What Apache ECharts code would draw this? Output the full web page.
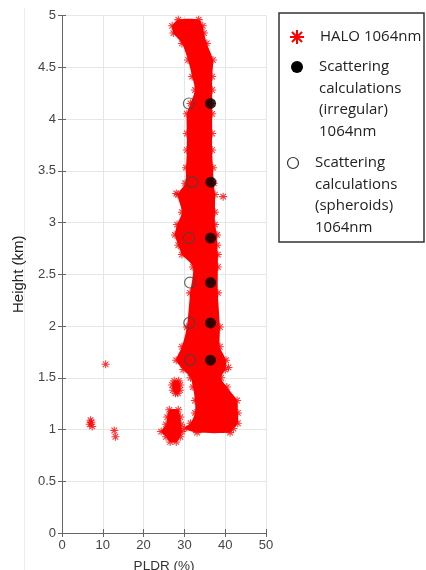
<!DOCTYPE html>
<html>
<head>
<meta charset="utf-8">
<script src="https://cdn.jsdelivr.net/npm/echarts@6/dist/echarts.min.js"></script>
<style>
html, body { margin: 0; padding: 0; background: #fff; }
#chart { width: 426px; height: 570px; }
</style>
</head>
<body>
<div id="chart"></div>
<script>
// HALO 1064nm cloud, main column: height (km), left / right PLDR edge (%)
const mainH     = [4.96, 4.90, 4.83, 4.73, 4.57, 4.41, 4.28, 4.15, 4.05, 3.86, 3.70, 3.53, 3.38, 3.27, 3.10, 2.98, 2.88, 2.78, 2.69, 2.57, 2.32, 1.99, 1.80, 1.67, 1.58, 1.50, 1.41, 1.28, 1.16, 1.06, 1.01, 0.97];
const mainLeft  = [28.5, 27.0, 27.3, 29.4, 30.9, 31.9, 32.6, 31.5, 30.6, 30.6, 30.6, 30.4, 30.2, 28.4, 29.4, 28.2, 27.7, 28.5, 29.4, 32.1, 31.4, 30.6, 29.4, 28.0, 29.7, 31.5, 32.1, 32.6, 32.6, 31.5, 30.0, 33.1];
const mainRight = [33.5, 34.5, 34.8, 35.5, 37.0, 36.8, 36.8, 36.8, 36.8, 36.8, 36.8, 37.0, 37.2, 37.5, 37.5, 37.5, 38.0, 38.0, 38.2, 38.2, 38.2, 38.7, 38.7, 40.2, 40.0, 39.0, 40.4, 42.9, 43.1, 43.1, 42.0, 41.2];

// lower-left patch
const lowH     = [1.19, 1.12, 1.05, 0.98, 0.93, 0.88];
const lowLeft  = [26.3, 25.8, 25.5, 24.3, 25.5, 26.5];
const lowRight = [28.5, 29.0, 29.2, 29.4, 29.0, 28.0];

// small patch near 1.4 km
const midH     = [1.47, 1.43, 1.38, 1.35];
const midLeft  = [27.5, 27.0, 27.2, 27.8];
const midRight = [28.6, 29.0, 28.9, 28.4];

// isolated HALO points
const spotX = [7.0, 6.8, 7.4, 7.2, 10.7, 12.8, 13.1, 39.5, 40.8, 28.0];
const spotY = [1.09, 1.05, 1.03, 1.07, 1.63, 0.99, 0.93, 3.25, 1.60, 3.28];

// scattering calculations
const calcH = [4.15, 3.39, 2.85, 2.42, 2.03, 1.67];
const irregularPLDR = [36.4, 36.5, 36.4, 36.4, 36.4, 36.4];
const spheroidPLDR  = [31.1, 31.9, 31.1, 31.4, 31.2, 31.4];

const star = 'M8.7 0L11.3 0L11.3 20L8.7 20Z M0 8.7L20 8.7L20 11.3L0 11.3Z M2.08 3.92L3.92 2.08L17.92 16.08L16.08 17.92Z M16.08 2.08L17.92 3.92L3.92 17.92L2.08 16.08Z';
const RED = '#ff0000';

let chart = echarts.init(document.getElementById('chart'));

function blob(hs, ls, rs) {
    return {
        type: 'custom',
        data: [[ls[0], hs[0]]],
        silent: true,
        z: 2,
        renderItem: function (params, api) {
            const pts = [];
            for (let i = 0; i < hs.length; i++) pts.push(api.coord([ls[i], hs[i]]));
            for (let i = hs.length - 1; i >= 0; i--) pts.push(api.coord([rs[i], hs[i]]));
            return { type: 'polygon', shape: { points: pts, smooth: 0.25 }, style: { fill: RED } };
        }
    };
}

function edges(hs, ls, rs) {
    const out = [];
    hs.forEach((h, i) => { out.push([ls[i], h]); out.push([rs[i], h]); });
    return out;
}

const haloPoints = edges(mainH, mainLeft, mainRight)
    .concat(edges(lowH, lowLeft, lowRight))
    .concat(edges(midH, midLeft, midRight))
    .concat(spotX.map((x, i) => [x, spotY[i]]));

// legend asterisk made of four strokes
function legendStar(cx, cy, r) {
    const d = r * 0.72;
    const segs = [[0, -r, 0, r], [-r, 0, r, 0], [-d, -d, d, d], [-d, d, d, -d]];
    return segs.map(s => ({
        type: 'line',
        shape: { x1: cx + s[0], y1: cy + s[1], x2: cx + s[2], y2: cy + s[3] },
        style: { stroke: RED, lineWidth: 2 }
    }));
}

const axisColor = '#666';
const labelFont = 'Liberation Sans';

const option = {
    animation: false,
    grid: { left: 62, right: 160, top: 15.5, bottom: 37, containLabel: false, outerBoundsMode: 'none' },
    xAxis: [
        {
            type: 'value', min: 0, max: 50, interval: 10, position: 'bottom',
            axisLine: { show: true, lineStyle: { color: axisColor } },
            axisTick: { show: true, inside: true, length: 4, lineStyle: { color: axisColor } },
            axisLabel: { color: '#444', fontSize: 13, margin: 6, fontFamily: labelFont },
            splitLine: { show: true, lineStyle: { color: '#e6e6e6' } },
            name: 'PLDR (%)', nameLocation: 'middle', nameGap: 26,
            nameTextStyle: { color: '#333', fontSize: 13.5, fontFamily: labelFont }
        },
        {
            type: 'value', min: 0, max: 50, interval: 10, position: 'top',
            axisLine: { show: true, lineStyle: { color: axisColor } },
            axisTick: { show: true, inside: true, length: 4, lineStyle: { color: axisColor } },
            axisLabel: { show: false }, splitLine: { show: false }
        }
    ],
    yAxis: [
        {
            type: 'value', min: 0, max: 5, interval: 0.5, position: 'left',
            axisLine: { show: true, lineStyle: { color: axisColor } },
            axisTick: { show: true, inside: true, length: 4, lineStyle: { color: axisColor } },
            axisLabel: { color: '#444', fontSize: 13, margin: 6, fontFamily: labelFont },
            splitLine: { show: true, lineStyle: { color: '#e6e6e6' } },
            name: 'Height (km)', nameLocation: 'middle', nameRotate: 90, nameGap: 36,
            nameTextStyle: { color: '#222', fontSize: 15, fontFamily: labelFont }
        },
        {
            type: 'value', min: 0, max: 5, interval: 0.5, position: 'right',
            axisLine: { show: true, lineStyle: { color: axisColor } },
            axisTick: { show: true, inside: true, length: 4, lineStyle: { color: axisColor } },
            axisLabel: { show: false }, splitLine: { show: false }
        }
    ],
    series: [
        blob(mainH, mainLeft, mainRight),
        blob(lowH, lowLeft, lowRight),
        blob(midH, midLeft, midRight),
        {
            name: 'HALO 1064nm', type: 'scatter', z: 3, silent: true,
            symbol: 'path://' + star, symbolSize: 8,
            itemStyle: { color: RED },
            data: haloPoints
        },
        {
            name: 'Scattering calculations (spheroids) 1064nm', type: 'scatter', z: 4, silent: true,
            symbol: 'circle', symbolSize: 11,
            itemStyle: { color: 'rgba(0,0,0,0)', borderColor: '#444', borderWidth: 1.2 },
            data: calcH.map((h, i) => [spheroidPLDR[i], h])
        },
        {
            name: 'Scattering calculations (irregular) 1064nm', type: 'scatter', z: 5, silent: true,
            symbol: 'circle', symbolSize: 11,
            itemStyle: { color: '#000' },
            data: calcH.map((h, i) => [irregularPLDR[i], h])
        }
    ],
    graphic: [
        { type: 'line', shape: { x1: 24.5, y1: 8, x2: 24.5, y2: 570 }, style: { stroke: '#ececec', lineWidth: 1 } },
        { type: 'rect', shape: { x: 279, y: 13, width: 145, height: 229 },
          style: { fill: '#fff', stroke: '#333', lineWidth: 1.5 } }
    ].concat(legendStar(297, 37, 7)).concat([
        { type: 'text', x: 320, y: 37,
          style: { text: 'HALO 1064nm', font: '15px "Open Sans"', fill: '#222', verticalAlign: 'middle' } },
        { type: 'circle', shape: { cx: 297, cy: 67, r: 6 }, style: { fill: '#000' } },
        { type: 'text', x: 319, y: 56,
          style: { text: 'Scattering\ncalculations\n(irregular)\n1064nm', font: '15px "Open Sans"',
                   lineHeight: 21.6, fill: '#222', verticalAlign: 'top' } },
        { type: 'circle', shape: { cx: 293, cy: 163, r: 5.5 }, style: { fill: '#fff', stroke: '#333', lineWidth: 1.2 } },
        { type: 'text', x: 315, y: 152,
          style: { text: 'Scattering\ncalculations\n(spheroids)\n1064nm', font: '15px "Open Sans"',
                   lineHeight: 21.6, fill: '#222', verticalAlign: 'top' } }
    ])
};

chart.setOption(option);
</script>
</body>
</html>
